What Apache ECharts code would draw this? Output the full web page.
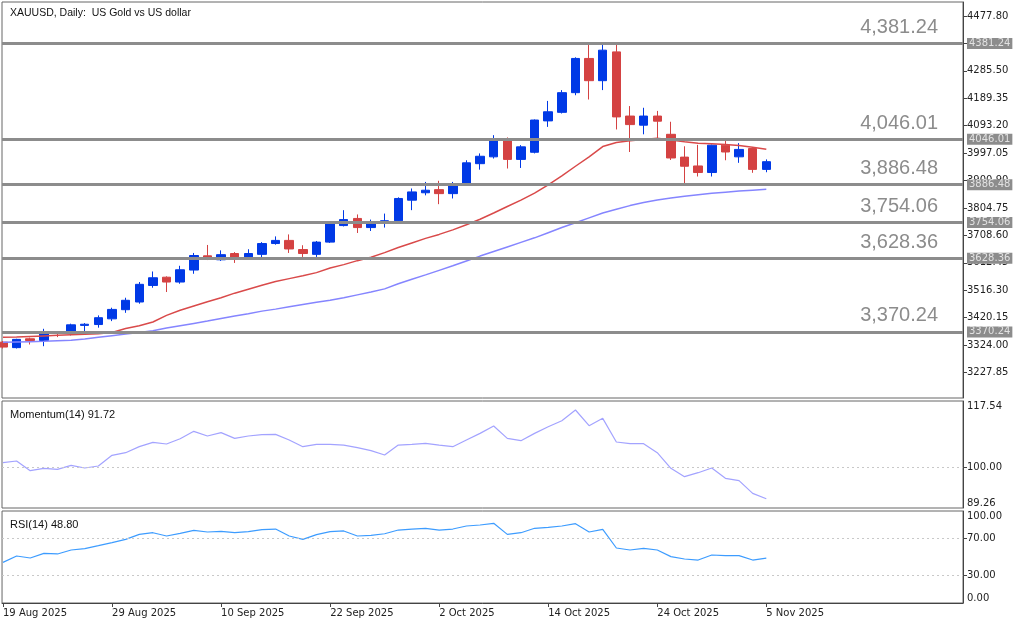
<!DOCTYPE html>
<html>
<head>
<meta charset="utf-8">
<title>XAUUSD, Daily</title>
<script src="https://cdn.jsdelivr.net/npm/echarts@6.0.0/dist/echarts.min.js"></script>
<style>
  html, body { margin: 0; padding: 0; background: #fff; }
  #chart { width: 1024px; height: 623px; }
</style>
</head>
<body>
<div id="chart"></div>
<script>
  const dates = [
    '19 Aug 2025', '20 Aug 2025', '21 Aug 2025', '22 Aug 2025', '25 Aug 2025', '26 Aug 2025', '27 Aug 2025', '28 Aug 2025', '29 Aug 2025',
    '1 Sep 2025', '2 Sep 2025', '3 Sep 2025', '4 Sep 2025', '5 Sep 2025', '8 Sep 2025', '9 Sep 2025', '10 Sep 2025', '11 Sep 2025',
    '12 Sep 2025', '15 Sep 2025', '16 Sep 2025', '17 Sep 2025', '18 Sep 2025', '19 Sep 2025', '22 Sep 2025', '23 Sep 2025',
    '24 Sep 2025', '25 Sep 2025', '26 Sep 2025', '29 Sep 2025', '30 Sep 2025', '1 Oct 2025', '2 Oct 2025', '3 Oct 2025',
    '6 Oct 2025', '7 Oct 2025', '8 Oct 2025', '9 Oct 2025', '10 Oct 2025', '13 Oct 2025', '14 Oct 2025', '15 Oct 2025',
    '16 Oct 2025', '17 Oct 2025', '20 Oct 2025', '21 Oct 2025', '22 Oct 2025', '23 Oct 2025', '24 Oct 2025', '27 Oct 2025',
    '28 Oct 2025', '29 Oct 2025', '30 Oct 2025', '31 Oct 2025', '3 Nov 2025', '4 Nov 2025', '5 Nov 2025'
  ]
  const dateTicks = ['19 Aug 2025', '29 Aug 2025', '10 Sep 2025', '22 Sep 2025', '2 Oct 2025', '14 Oct 2025', '24 Oct 2025', '5 Nov 2025']

  const opens = [3334, 3315, 3346, 3340, 3368, 3366, 3393, 3396, 3416, 3448, 3475, 3533, 3562, 3545, 3587, 3637, 3623, 3645, 3633,
    3642, 3680, 3691, 3659, 3642, 3685, 3743, 3768, 3736, 3753, 3760, 3832, 3858, 3869, 3855, 3890, 3960, 3984, 4042, 3975,
    4000, 4110, 4140, 4209, 4329, 4251, 4352, 4127, 4095, 4127, 4063, 3983, 3952, 3929, 4025, 3984, 4013, 3940]
  const closes = [3317, 3344, 3340, 3366, 3365, 3395, 3397, 3420, 3449, 3481, 3537, 3560, 3545, 3588, 3638, 3628, 3641, 3631, 3645,
    3680, 3691, 3661, 3645, 3685, 3750, 3764, 3736, 3752, 3760, 3838, 3861, 3867, 3855, 3884, 3963, 3986, 4042, 3975, 4019,
    4113, 4142, 4209, 4329, 4251, 4358, 4124, 4097, 4127, 4109, 3980, 3951, 3929, 4025, 4001, 4010, 3940, 3967]
  const lows = [3312, 3312, 3326, 3320, 3352, 3358, 3373, 3385, 3408, 3437, 3469, 3525, 3510, 3539, 3574, 3622, 3619, 3612, 3632,
    3632, 3676, 3647, 3633, 3633, 3682, 3740, 3717, 3724, 3736, 3756, 3797, 3849, 3818, 3838, 3888, 3939, 3978, 3943, 3945,
    3996, 4089, 4136, 4200, 4185, 4218, 4080, 4001, 4063, 4048, 3973, 3890, 3915, 3915, 3972, 3963, 3928, 3930]
  const highs = [3338, 3346, 3350, 3381, 3372, 3399, 3401, 3428, 3455, 3490, 3545, 3582, 3565, 3602, 3647, 3675, 3656, 3650, 3660,
    3685, 3705, 3712, 3674, 3689, 3752, 3797, 3782, 3764, 3785, 3842, 3873, 3896, 3900, 3896, 3972, 3996, 4060, 4052, 4025,
    4115, 4180, 4218, 4333, 4378, 4381, 4378, 4162, 4156, 4145, 4107, 4021, 4026, 4027, 4040, 4032, 4013, 3975]

  const maFast = [3351, 3352, 3354, 3356, 3358, 3360, 3362, 3364, 3368, 3382, 3392, 3405, 3428, 3446, 3461, 3476, 3490, 3506, 3520,
    3534, 3547, 3557, 3567, 3578, 3594, 3606, 3620, 3632, 3648, 3666, 3682, 3698, 3712, 3728, 3746, 3765, 3787, 3810, 3832,
    3857, 3886, 3917, 3951, 3984, 4020, 4034, 4040, 4045, 4049, 4043, 4037, 4032, 4030, 4027, 4024, 4018, 4011]
  const maSlow = [3334, 3335, 3336, 3337, 3339, 3341, 3345, 3351, 3357, 3363, 3368, 3374, 3384, 3392, 3400, 3408, 3417, 3426, 3434,
    3443, 3450, 3458, 3466, 3474, 3481, 3490, 3500, 3510, 3521, 3539, 3555, 3570, 3586, 3602, 3619, 3636, 3652, 3668, 3684,
    3700, 3718, 3736, 3753, 3770, 3787, 3800, 3813, 3824, 3833, 3840, 3846, 3851, 3856, 3860, 3864, 3867, 3870]

  const momentum = [101.24, 101.68, 99.12, 99.74, 99.48, 100.53, 99.83, 100.36, 103.18, 103.88, 105.47, 106.61, 106.17, 107.58,
    109.52, 108.29, 109.17, 107.67, 108.29, 108.64, 108.73, 107.23, 105.47, 106.08, 106.08, 105.9, 105.2, 104.41, 103.26, 105.9,
    106.08, 106.35, 105.9, 105.47, 107.23, 108.99, 110.93, 107.67, 107.05, 108.99, 110.75, 112.34, 115.16, 111.02, 112.96, 106.7,
    106.26, 106.26, 103.88, 99.74, 97.54, 98.59, 99.83, 97.1, 96.48, 93.13, 91.72]
  const rsi = [44.2, 51.1, 48.9, 54.0, 53.3, 57.6, 59.1, 62.3, 65.6, 69.2, 74.6, 76.4, 72.8, 75.7, 79.0, 77.2, 77.9, 76.4, 77.5,
    79.7, 80.4, 72.8, 69.2, 74.3, 77.5, 78.3, 72.8, 73.6, 75.3, 79.3, 80.4, 81.2, 79.3, 80.4, 83.7, 84.8, 86.6, 74.6, 76.4,
    81.2, 82.3, 83.7, 86.2, 77.2, 80.0, 59.8, 57.6, 59.4, 57.6, 50.4, 47.8, 46.7, 52.2, 51.5, 51.5, 46.7, 48.8]

  const levels = [4381.24, 4046.01, 3886.48, 3754.06, 3628.36, 3370.24]
  const priceTicks = [3227.85, 3324.00, 3420.15, 3516.30, 3612.45, 3708.60, 3804.75, 3900.90, 3997.05, 4093.20, 4189.35,
    4285.50, 4381.65, 4477.80]
  const momentumTicks = [89.26, 100, 117.54]
  const rsiTicks = [0, 30, 70, 100]

  const AXIS_FONT = 'DejaVu Sans'
  const TEXT_FONT = 'Liberation Sans'
  const UP = '#0039e6'
  const DOWN = '#d44242'

  const chart = echarts.init(document.getElementById('chart'))

  function xAxisFor(gridIndex, withLabels) {
    return {
      type: 'value',
      gridIndex: gridIndex,
      min: -0.07,
      max: 70.43,
      axisLine: { show: withLabels, onZero: false, lineStyle: { color: '#444' } },
      axisTick: {
        show: withLabels,
        length: 4,
        customValues: dateTicks.map(d => dates.indexOf(d)),
        lineStyle: { color: '#444' }
      },
      axisLabel: {
        show: withLabels,
        customValues: dateTicks.map(d => dates.indexOf(d)),
        formatter: v => dates[Math.round(v)],
        align: 'left',
        margin: 5,
        color: '#222',
        fontFamily: AXIS_FONT,
        fontSize: 10
      },
      splitLine: { show: false }
    }
  }

  function yAxisFor(gridIndex, min, max, labels, ticks, edgeAlign) {
    return {
      type: 'value',
      gridIndex: gridIndex,
      position: 'right',
      min: min,
      max: max,
      axisLine: { show: true, onZero: false, lineStyle: { color: '#444' } },
      axisTick: { show: true, length: 4, customValues: ticks, lineStyle: { color: '#444' } },
      axisLabel: {
        customValues: labels,
        formatter: v => v.toFixed(2),
        margin: 4,
        color: '#222',
        fontFamily: AXIS_FONT,
        fontSize: 10,
        verticalAlignMinLabel: edgeAlign ? 'bottom' : 'middle',
        verticalAlignMaxLabel: edgeAlign ? 'top' : 'middle'
      },
      splitLine: { show: false }
    }
  }

  // each level: the drawn line with its tag on the axis, plus a bare line for the big text
  const levelLines = []
  levels.forEach(v => {
    levelLines.push({
      yAxis: v,
      lineStyle: { color: '#8c8c8c', width: 3, type: 'solid' },
      label: {
        show: true,
        position: 'end',
        distance: [4, 0],
        formatter: () => v.toFixed(2),
        backgroundColor: '#8c8c8c',
        color: '#e2e2e2',
        padding: [1, 2, 0, 2],
        fontFamily: AXIS_FONT,
        fontSize: 10
      }
    })
    levelLines.push({
      yAxis: v,
      lineStyle: { color: 'rgba(255,255,255,0)', width: 0 },
      label: {
        show: true,
        position: 'insideEndTop',
        distance: [25, 6],
        formatter: () => v.toLocaleString('en-US', { minimumFractionDigits: 2 }),
        color: '#8c8c8c',
        fontFamily: TEXT_FONT,
        fontSize: 20
      }
    })
  })

  const dotted = { color: '#c8c8c8', width: 1, type: [2, 3] }

  chart.setOption({
    animation: false,
    backgroundColor: '#fff',
    title: [
      { text: 'XAUUSD, Daily:  US Gold vs US dollar', left: 5, top: 3,
        textStyle: { fontFamily: TEXT_FONT, fontSize: 10.5, fontWeight: 'normal', color: '#111' } },
      { text: 'Momentum(14) ' + momentum[momentum.length - 1].toFixed(2), left: 5, top: 404,
        textStyle: { fontFamily: TEXT_FONT, fontSize: 11, fontWeight: 'normal', color: '#111' } },
      { text: 'RSI(14) ' + rsi[rsi.length - 1].toFixed(2), left: 5, top: 514,
        textStyle: { fontFamily: TEXT_FONT, fontSize: 11, fontWeight: 'normal', color: '#111' } }
    ],
    grid: [
      { left: 2, right: 61, top: 2, height: 396, show: true, borderColor: '#666', borderWidth: 1 },
      { left: 2, right: 61, top: 401, height: 107, show: true, borderColor: '#666', borderWidth: 1 },
      { left: 2, right: 61, top: 511, height: 92, show: true, borderColor: '#666', borderWidth: 1 }
    ],
    xAxis: [xAxisFor(0, false), xAxisFor(1, false), xAxisFor(2, true)],
    yAxis: [
      yAxisFor(0, 3138.4, 4526.9, priceTicks, priceTicks, false),
      yAxisFor(1, 89.26, 117.54, momentumTicks, [100], true),
      yAxisFor(2, 0, 100, rsiTicks, [30, 70], true)
    ],
    series: [
      {
        name: 'XAUUSD',
        type: 'candlestick',
        xAxisIndex: 0,
        yAxisIndex: 0,
        barWidth: 9,
        encode: { x: 0, y: [1, 2, 3, 4] },
        data: dates.map((d, i) => [i, opens[i], closes[i], lows[i], highs[i]]),
        itemStyle: { color: UP, color0: DOWN, borderColor: UP, borderColor0: DOWN, borderWidth: 1 },
        markLine: { silent: true, symbol: ['none', 'none'], animation: false, data: levelLines }
      },
      {
        name: 'MA fast',
        type: 'line',
        xAxisIndex: 0,
        yAxisIndex: 0,
        showSymbol: false,
        data: maFast.map((v, i) => [i, v]),
        lineStyle: { color: '#d94a4a', width: 1.5 }
      },
      {
        name: 'MA slow',
        type: 'line',
        xAxisIndex: 0,
        yAxisIndex: 0,
        showSymbol: false,
        data: maSlow.map((v, i) => [i, v]),
        lineStyle: { color: '#8585ff', width: 1.5 }
      },
      {
        name: 'Momentum',
        type: 'line',
        xAxisIndex: 1,
        yAxisIndex: 1,
        showSymbol: false,
        data: momentum.map((v, i) => [i, v]),
        lineStyle: { color: '#a3a3ff', width: 1.2 },
        markLine: { silent: true, symbol: ['none', 'none'], label: { show: false }, lineStyle: dotted, data: [{ yAxis: 100 }] }
      },
      {
        name: 'RSI',
        type: 'line',
        xAxisIndex: 2,
        yAxisIndex: 2,
        showSymbol: false,
        data: rsi.map((v, i) => [i, v]),
        lineStyle: { color: '#3d9cff', width: 1.2 },
        markLine: { silent: true, symbol: ['none', 'none'], label: { show: false }, lineStyle: dotted, data: [{ yAxis: 70 }, { yAxis: 30 }] }
      }
    ]
  })
</script>
</body>
</html>
